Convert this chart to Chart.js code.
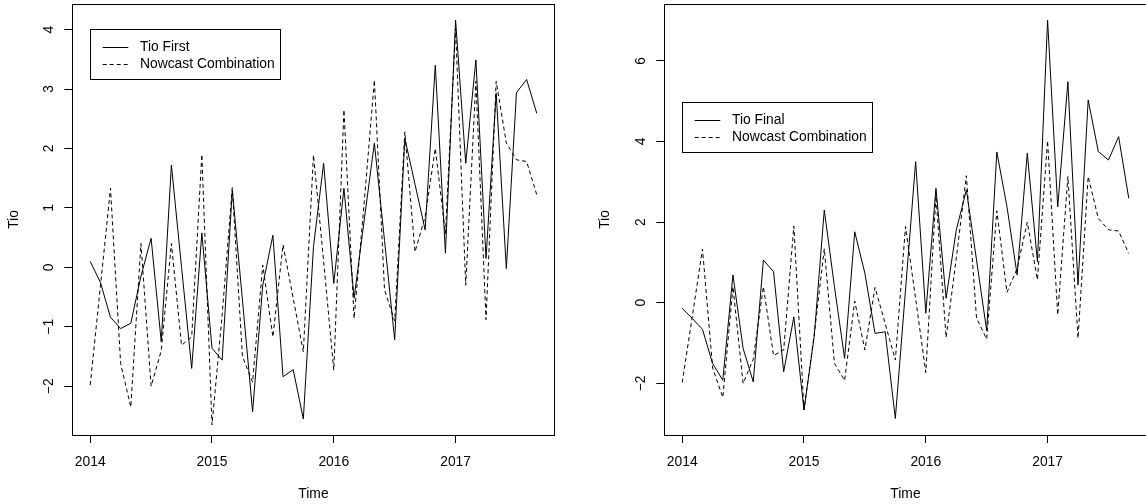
<!DOCTYPE html>
<html>
<head>
<meta charset="utf-8">
<script src="https://cdn.jsdelivr.net/npm/chart.js@4"></script>
<style>
  html, body { margin: 0; padding: 0; background: #fff; overflow: hidden; }
  #wrap { position: relative; width: 1146px; height: 504px; overflow: hidden; }
  canvas { position: absolute; top: 0; }
</style>
</head>
<body>
<div id="wrap">
  <canvas id="left" width="573" height="504" style="left:0"></canvas>
  <canvas id="right" width="576" height="504" style="left:573px"></canvas>
</div>
<script>
// monthly series, Jan 2014 - Sep 2017
const startYear = 2014;
const tioFirst = [0.10, -0.25, -0.84, -1.03, -0.94, -0.15, 0.49, -1.25, 1.72, 0.00, -1.70, 0.58,
  -1.36, -1.56, 1.30, -0.55, -2.43, -0.30, 0.54, -1.84, -1.72, -2.55, 0.35, 1.75,
  -0.27, 1.33, -0.52, 0.80, 2.09, 0.45, -1.22, 2.17, 1.40, 0.63, 3.40, 0.24,
  4.16, 1.75, 3.49, 0.15, 2.93, -0.02, 2.94, 3.16, 2.59];
const tioFinal = [-0.14, -0.39, -0.66, -1.51, -1.92, 0.69, -1.13, -1.96, 1.06, 0.77, -1.71, -0.35,
  -2.66, -0.85, 2.30, 0.40, -1.38, 1.76, 0.73, -0.76, -0.72, -2.87, 0.31, 3.50,
  -0.26, 2.84, 0.11, 1.80, 2.80, 1.06, -0.69, 3.74, 2.38, 0.69, 3.71, 1.02,
  7.01, 2.38, 5.48, 0.44, 5.03, 3.75, 3.54, 4.12, 2.59];
const nowcast = [-1.98, -0.33, 1.33, -1.62, -2.35, 0.40, -2.00, -1.40, 0.40, -1.31, -1.17, 1.90,
  -2.65, -0.80, 1.34, -1.50, -1.93, 0.04, -1.17, 0.38, -0.52, -1.42, 1.89, 0.10,
  -1.73, 2.65, -0.86, 1.10, 3.15, -0.38, -0.90, 2.28, 0.26, 0.85, 2.00, 0.57,
  4.02, -0.30, 3.13, -0.88, 3.13, 2.09, 1.81, 1.78, 1.22];

const xTicks = [2014, 2015, 2016, 2017];
const yTicksFirst = [-2, -1, 0, 1, 2, 3, 4];
const yTicksFinal = [-2, 0, 2, 4, 6];

// R-style axis ranges (data range + 4%)
const xRange = [2013.853, 2017.813];
const yRangeFirst = [-2.82, 4.43];
const yRangeFinal = [-3.28, 7.41];

const FAMILY = '"Liberation Sans", Arial, sans-serif';
const SIZE = 13.85;
Chart.defaults.color = '#000';
Chart.defaults.font.family = FAMILY;
Chart.defaults.font.size = SIZE;

const toPoints = arr => arr.map((v, i) => ({ x: startYear + i / 12, y: v }));

// box around the plot, y labels parallel to the axis, legend inside the plot
const rFrame = {
  id: 'rFrame',
  afterDraw(chart, args, opts) {
    const { ctx, chartArea: a } = chart;
    const y = chart.scales.y;
    ctx.save();
    ctx.strokeStyle = '#000';
    ctx.lineWidth = 1;
    ctx.strokeRect(Math.round(a.left) + 0.5, Math.round(a.top) + 0.5,
      Math.round(a.right - a.left), Math.round(a.bottom - a.top));

    ctx.fillStyle = '#000';
    ctx.font = SIZE + 'px ' + FAMILY;
    ctx.textAlign = 'center';
    ctx.textBaseline = 'middle';
    y.ticks.forEach(t => {
      ctx.save();
      ctx.translate(a.left - 23.5, y.getPixelForValue(t.value));
      ctx.rotate(-Math.PI / 2);
      ctx.fillText(String(t.value).replace('-', '\u2212'), 0, 0);
      ctx.restore();
    });

    const lx = Math.round(a.left + opts.x), ly = Math.round(a.top + opts.y);
    ctx.strokeRect(lx + 0.5, ly + 0.5, 190, 50);
    ctx.textAlign = 'left';
    chart.data.datasets.forEach((ds, i) => {
      const yy = Math.round(ly + 17.5 + i * 17.5) + 0.5;
      ctx.setLineDash(ds.borderDash || []);
      ctx.beginPath();
      ctx.moveTo(lx + 12.7, yy);
      ctx.lineTo(lx + 38.3, yy);
      ctx.stroke();
      ctx.setLineDash([]);
      ctx.fillText(ds.label, lx + 50, yy);
    });
    ctx.restore();
  }
};

function makeChart(id, label, values, yRange, yTicks, pad, yWidth, legendPos) {
  return new Chart(document.getElementById(id), {
    type: 'line',
    data: {
      datasets: [
        { label: label, data: toPoints(values), borderColor: '#000', borderWidth: 1,
          pointRadius: 0, tension: 0, fill: false },
        { label: 'Nowcast Combination', data: toPoints(nowcast), borderColor: '#000', borderWidth: 1,
          borderDash: [4, 3], pointRadius: 0, tension: 0, fill: false }
      ]
    },
    options: {
      responsive: false,
      animation: false,
      events: [],
      layout: { padding: { left: pad[0], right: pad[1], top: 4, bottom: 0 } },
      plugins: {
        legend: { display: false },
        tooltip: { enabled: false },
        rFrame: legendPos
      },
      scales: {
        x: {
          type: 'linear',
          min: xRange[0], max: xRange[1],
          afterBuildTicks: s => { s.ticks = xTicks.map(v => ({ value: v })); },
          afterFit: s => { s.height = 69; },
          grid: { drawOnChartArea: false, drawTicks: true, tickLength: 8, color: '#000', lineWidth: 1 },
          border: { display: true, color: '#000' },
          ticks: { padding: 11, maxRotation: 0, autoSkip: false, callback: v => String(v) },
          title: { display: true, text: 'Time', padding: { top: 0, bottom: 1.7 } }
        },
        y: {
          min: yRange[0], max: yRange[1],
          afterBuildTicks: s => { s.ticks = yTicks.map(v => ({ value: v })); },
          afterFit: s => { s.width = yWidth; },
          grid: { drawOnChartArea: false, drawTicks: true, tickLength: 8, color: '#000', lineWidth: 1 },
          border: { display: true, color: '#000' },
          ticks: { display: false },
          title: { display: true, text: 'Tio', padding: { top: 5.7, bottom: 0 } }
        }
      }
    },
    plugins: [rFrame]
  });
}

makeChart('left', 'Tio First', tioFirst, yRangeFirst, yTicksFirst, [0, 18.4], 72.3, { x: 17.7, y: 25.3 });
makeChart('right', 'Tio Final', tioFinal, yRangeFinal, yTicksFinal, [18, 2.4], 73.3, { x: 18, y: 97.7 });
</script>
</body>
</html>
